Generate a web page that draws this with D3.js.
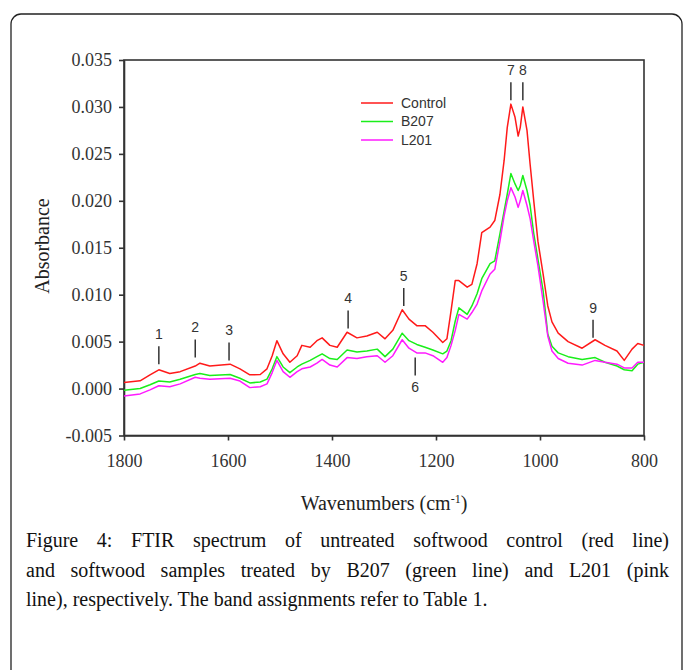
<!DOCTYPE html>
<html>
<head>
<meta charset="utf-8">
<script src="https://cdn.jsdelivr.net/npm/d3@7"></script>
<style>
  body { margin: 0; background: #fff; }
  svg { display: block; }
  .axis path, .axis line { stroke: #333; stroke-width: 1.6; }
  .axis text { font-family: "Liberation Serif", "Times New Roman", serif; font-size: 18px; fill: #333; }
</style>
</head>
<body>
<svg id="chart" width="683" height="670"></svg>
<script>
// wavenumbers (cm-1)
const wavenumbers = [1800, 1769, 1750, 1733, 1712, 1692, 1663, 1654, 1635, 1596,
    1577, 1558, 1538, 1525, 1515, 1506, 1494, 1481, 1467, 1458,
    1442, 1429, 1419, 1404, 1390, 1371, 1352, 1333, 1313, 1298,
    1283, 1265, 1252, 1237, 1221, 1206, 1187, 1179, 1171, 1163,
    1156, 1140, 1131, 1121, 1112, 1096, 1087, 1077, 1069, 1063,
    1056, 1048, 1042, 1038, 1033, 1025, 1019, 1012, 1004, 994,
    985, 977, 965, 946, 919, 894, 875, 852, 838, 823,
    812, 800];

const control = [0.00064, 0.00082, 0.00146, 0.0020, 0.0016, 0.0018, 0.0024, 0.0027, 0.0024, 0.0026,
    0.0021, 0.00146, 0.0015, 0.0021, 0.0035, 0.0051, 0.0037, 0.0028, 0.0035, 0.0046,
    0.0044, 0.0051, 0.0054, 0.0046, 0.0044, 0.0060, 0.0054, 0.0056, 0.0060, 0.0053,
    0.0062, 0.0084, 0.0074, 0.0067, 0.0067, 0.0060, 0.0049, 0.0053, 0.0083, 0.0115,
    0.0115, 0.0108, 0.0111, 0.0133, 0.0166, 0.0172, 0.0179, 0.0207, 0.0243, 0.0278,
    0.0303, 0.0289, 0.0269, 0.0278, 0.0300, 0.0275, 0.0239, 0.0200, 0.0157, 0.0122,
    0.0088, 0.0071, 0.0059, 0.0050, 0.0043, 0.0052, 0.0046, 0.0040, 0.0030, 0.0042,
    0.0048, 0.0046];

const b207 = [-0.00017, 0.0000, 0.0004, 0.0008, 0.0007, 0.0010, 0.0015, 0.0016, 0.0014, 0.0015,
    0.0011, 0.0006, 0.0007, 0.0010, 0.0021, 0.0034, 0.0023, 0.0017, 0.0023, 0.0026,
    0.0030, 0.0034, 0.0037, 0.0032, 0.0031, 0.0041, 0.0039, 0.0040, 0.0042, 0.0034,
    0.0042, 0.0059, 0.0051, 0.0047, 0.0044, 0.0041, 0.0037, 0.0040, 0.0051, 0.0072,
    0.0086, 0.0079, 0.0088, 0.0101, 0.0117, 0.0133, 0.0136, 0.0165, 0.0189, 0.0207,
    0.0229, 0.0218, 0.0211, 0.0216, 0.0227, 0.0211, 0.0195, 0.0165, 0.0138, 0.0104,
    0.0058, 0.0045, 0.0038, 0.0034, 0.0031, 0.0033, 0.0028, 0.0024, 0.0020, 0.0019,
    0.0026, 0.0028];

const l201 = [-0.00078, -0.00057, -0.00014, 0.0003, 0.0002, 0.0005, 0.0012, 0.0011, 0.0010, 0.0011,
    0.0008, 0.0001, 0.0002, 0.0005, 0.0017, 0.0030, 0.0018, 0.0012, 0.0018, 0.0021,
    0.0023, 0.0027, 0.0031, 0.0025, 0.0023, 0.0033, 0.0032, 0.0034, 0.0035, 0.0028,
    0.0035, 0.0052, 0.0043, 0.0038, 0.0038, 0.0035, 0.0028, 0.0033, 0.0046, 0.0062,
    0.0079, 0.0074, 0.0081, 0.0090, 0.0104, 0.0122, 0.0127, 0.0157, 0.0184, 0.0200,
    0.0214, 0.0204, 0.0193, 0.0200, 0.0211, 0.0195, 0.0181, 0.0157, 0.0131, 0.0093,
    0.0056, 0.0040, 0.0032, 0.0027, 0.0025, 0.0030, 0.0028, 0.0026, 0.0022, 0.0022,
    0.0028, 0.0028];

const seriesNames = ["Control", "B207", "L201"];
const seriesColors = ["#ff1a1a", "#1aee1a", "#ff1aff"];

const xTicks = [1800, 1600, 1400, 1200, 1000, 800];
const yTicks = [-0.005, 0.000, 0.005, 0.010, 0.015, 0.020, 0.025, 0.030, 0.035];

// band markers: label, wavenumber, absorbance at the marker end, side
const bandLabels = ["1", "2", "3", "4", "5", "6", "7", "8", "9"];
const bandWn = [1733, 1663, 1598, 1369, 1262, 1240, 1056, 1033, 898];
const bandTip = [0.0026, 0.0033, 0.0030, 0.0064, 0.0088, 0.0033, 0.0307, 0.0307, 0.0054];
const bandBelow = [false, false, false, false, false, true, false, false, false];

const captionLines = [
    "Figure 4: FTIR spectrum of untreated softwood control (red line)",
    "and softwood samples treated by B207 (green line) and L201 (pink",
    "line), respectively. The band assignments refer to Table 1."
];

const svg = d3.select("#chart");

// Config
const plot = { left: 124, right: 644, top: 60, bottom: 435.5 };

const x = d3.scaleLinear().domain([1800, 800]).range([plot.left, plot.right]);
const y = d3.scaleLinear().domain([-0.005, 0.035]).range([plot.bottom, plot.top]);

// outer rounded frame
svg.append("rect")
    .attr("x", 11).attr("y", 14)
    .attr("width", 671).attr("height", 720)
    .attr("rx", 10)
    .attr("fill", "none")
    .attr("stroke", "#222")
    .attr("stroke-width", 1.3);

// plot box
svg.append("rect")
    .attr("x", plot.left).attr("y", plot.top)
    .attr("width", plot.right - plot.left)
    .attr("height", plot.bottom - plot.top)
    .attr("fill", "none")
    .attr("stroke", "#333")
    .attr("stroke-width", 1.6);

// Axes
svg.append("g")
    .attr("class", "axis")
    .attr("transform", `translate(0,${plot.bottom})`)
    .call(d3.axisBottom(x).tickValues(xTicks).tickFormat(d3.format("d")).tickSize(5).tickSizeOuter(0).tickPadding(14));

svg.append("g")
    .attr("class", "axis")
    .attr("transform", `translate(${plot.left},0)`)
    .call(d3.axisLeft(y).tickValues(yTicks).tickFormat(d => d.toFixed(3)).tickSize(5).tickSizeOuter(0).tickPadding(7));

// axis titles
const xTitle = svg.append("text")
    .attr("x", (plot.left + plot.right) / 2)
    .attr("y", 510)
    .attr("text-anchor", "middle")
    .style("font-family", "'Liberation Serif', 'Times New Roman', serif")
    .style("font-size", "20px")
    .attr("fill", "#222");
xTitle.append("tspan").text("Wavenumbers (cm");
xTitle.append("tspan").attr("dy", "-7").style("font-size", "12px").text("-1");
xTitle.append("tspan").attr("dy", "7").text(")");

svg.append("text")
    .attr("transform", "translate(49,246) rotate(-90)")
    .attr("text-anchor", "middle")
    .style("font-family", "'Liberation Serif', 'Times New Roman', serif")
    .style("font-size", "20px")
    .attr("fill", "#222")
    .text("Absorbance");

// spectra
const line = d3.line()
    .x(d => x(d.wn))
    .y(d => y(d.value));

[control, b207, l201].forEach((values, i) => {
    svg.append("path")
        .datum(values.map((v, j) => ({ wn: wavenumbers[j], value: v })))
        .attr("fill", "none")
        .attr("stroke", seriesColors[i])
        .attr("stroke-width", 1.5)
        .attr("stroke-linejoin", "round")
        .attr("d", line);
});

// legend
const legend = svg.append("g").attr("transform", "translate(361,103)");
seriesNames.forEach((name, i) => {
    const row = legend.append("g").attr("transform", `translate(0,${i * 18.5})`);
    row.append("line")
        .attr("x1", 0).attr("x2", 32)
        .attr("stroke", seriesColors[i])
        .attr("stroke-width", 1.5);
    row.append("text")
        .attr("x", 40)
        .attr("dy", "0.35em")
        .style("font-family", "'Liberation Sans', Arial, sans-serif")
        .style("font-size", "14px")
        .attr("fill", "#333")
        .text(name);
});

// band markers
bandLabels.forEach((label, i) => {
    const bx = x(bandWn[i]);
    const by = y(bandTip[i]);
    const dir = bandBelow[i] ? 1 : -1;
    svg.append("line")
        .attr("x1", bx).attr("x2", bx)
        .attr("y1", by).attr("y2", by + dir * 18)
        .attr("stroke", "#333")
        .attr("stroke-width", 1.5);
    svg.append("text")
        .attr("x", bx)
        .attr("y", by + dir * 30)
        .attr("dy", "0.35em")
        .attr("text-anchor", "middle")
        .style("font-family", "'Liberation Sans', Arial, sans-serif")
        .style("font-size", "14px")
        .attr("fill", "#333")
        .text(label);
});

// caption, first two lines justified
captionLines.forEach((txt, i) => {
    const t = svg.append("text")
        .attr("x", 26)
        .attr("y", 547 + i * 29.5)
        .style("font-family", "'Liberation Serif', 'Times New Roman', serif")
        .style("font-size", "20px")
        .attr("fill", "#111")
        .text(txt);
    if (i < captionLines.length - 1) {
        const len = t.node().getComputedTextLength();
        const gaps = txt.split(" ").length - 1;
        t.style("word-spacing", ((669 - 26 - len) / gaps) + "px");
    }
});
</script>
</body>
</html>
